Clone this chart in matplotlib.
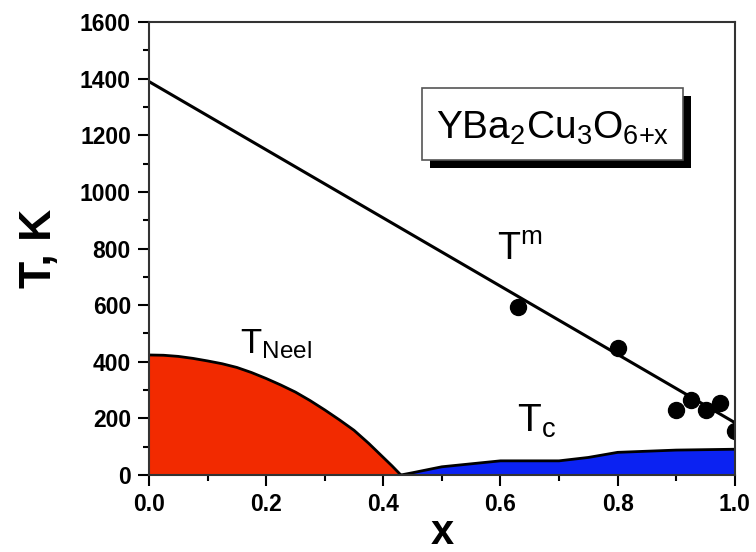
import matplotlib.pyplot as plt
from matplotlib.patches import Rectangle
from matplotlib.ticker import MultipleLocator

plt.rcParams["font.family"] = ["Liberation Sans", "DejaVu Sans"]
plt.rcParams["mathtext.fontset"] = "custom"
plt.rcParams["mathtext.rm"] = "Liberation Sans"
plt.rcParams["mathtext.default"] = "regular"

# Neel temperature boundary (antiferromagnetic dome)
neel_x = [0.0, 0.025, 0.05, 0.075, 0.10, 0.125, 0.15, 0.175, 0.20, 0.225,
          0.25, 0.275, 0.30, 0.325, 0.35, 0.375, 0.40, 0.415, 0.43]
neel_t = [424, 423, 419, 412, 403, 393, 380, 362, 341, 318,
          293, 263, 230, 195, 158, 112, 62, 32, 0]

# superconducting Tc boundary
tc_x = [0.43, 0.45, 0.50, 0.60, 0.70, 0.75, 0.80, 0.90, 1.00]
tc_t = [0, 8, 29, 50, 50, 62, 80, 88, 91]

# melting temperature: fitted line and measured points
tm_line_x = [0.0, 1.0]
tm_line_t = [1390, 185]
tm_x = [0.63, 0.80, 0.90, 0.925, 0.95, 0.975, 1.0]
tm_t = [595, 447, 229, 265, 229, 255, 155]

fig = plt.figure(figsize=(7.56, 5.52), dpi=100)
ax = fig.add_axes([0.197, 0.1395, 0.775, 0.8205])

ax.fill_between(neel_x, neel_t, 0, color="#f22a00", lw=0)
ax.plot(neel_x, neel_t, color="black", lw=2)
ax.fill_between(tc_x, tc_t, 0, color="#0b22f2", lw=0)
ax.plot(tc_x, tc_t, color="black", lw=2)

ax.plot(tm_line_x, tm_line_t, color="black", lw=2.2)
ax.plot(tm_x, tm_t, "o", color="black", ms=11.5)

ax.set_xlim(0, 1.0)
ax.set_ylim(0, 1600)
ax.xaxis.set_major_locator(MultipleLocator(0.2))
ax.xaxis.set_minor_locator(MultipleLocator(0.1))
ax.yaxis.set_major_locator(MultipleLocator(200))
ax.yaxis.set_minor_locator(MultipleLocator(100))
ax.set_xticks([0, 0.2, 0.4, 0.6, 0.8, 1.0])
ax.set_xticklabels(["0.0", "0.2", "0.4", "0.6", "0.8", "1.0"])
ax.tick_params(which="both", direction="out", width=1.5, top=False, right=False)
ax.tick_params(which="major", length=8, pad=5, labelsize=16.5)
ax.tick_params(which="minor", length=4.5)
for lab in ax.get_xticklabels() + ax.get_yticklabels():
    lab.set_fontweight("bold")
for sp in ax.spines.values():
    sp.set_linewidth(1.5)
    sp.set_color("#333333")

ax.set_xlabel("x", fontsize=30, fontweight="bold", labelpad=-2)
ax.set_ylabel("T, K", fontsize=32, fontweight="bold", labelpad=14)

# phase labels
ax.text(0.594, 759, "T$^{m}$", fontsize=27)
ax.text(0.155, 431, "T$_{Neel}$", fontsize=25)
ax.text(0.628, 152, "T$_{c}$", fontsize=28)

# compound label with drop shadow
ax.add_patch(Rectangle((0.480, 0.677), 0.445, 0.159, transform=ax.transAxes,
                       facecolor="black", edgecolor="none", zorder=4))
ax.add_patch(Rectangle((0.466, 0.695), 0.445, 0.159, transform=ax.transAxes,
                       facecolor="white", edgecolor="#555555", lw=1.2, zorder=5))
ax.text(0.490, 0.765, "YBa$_2$Cu$_3$O$_{6{+}x}$", transform=ax.transAxes,
        fontsize=28, va="center", ha="left", zorder=6)

fig.savefig("out.png", dpi=100)
